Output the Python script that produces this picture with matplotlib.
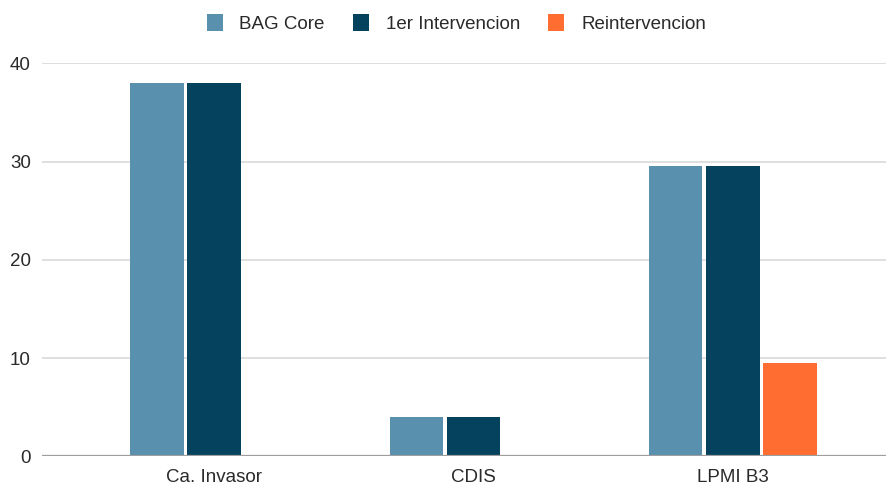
import numpy as np
import matplotlib.pyplot as plt

plt.rcParams['font.family'] = ['Liberation Sans', 'DejaVu Sans']

# Data
categories = ["Ca. Invasor", "CDIS", "LPMI B3"]
bag_core = [38, 4, 29.5]
primera_interv = [38, 4, 29.5]
reinterv = [0, 0, 9.5]
series_names = ["BAG Core", "1er Intervencion", "Reintervencion"]
colors = ["#5890AE", "#04425E", "#FF6D31"]

fig = plt.figure(figsize=(8.86, 4.86), dpi=100)
ax = fig.add_axes([0.0474, 0.0607, 0.9526, 0.8093])

x = np.arange(len(categories))
step = 0.22
width = 0.205
for i, (vals, name, col) in enumerate(zip([bag_core, primera_interv, reinterv], series_names, colors)):
    ax.bar(x + (i - 1) * step, vals, width, color=col, label=name, zorder=3)

ax.set_xlim(-0.663, 2.59)
ax.set_ylim(0, 40)
ax.set_yticks([0, 10, 20, 30, 40])
ax.set_xticks(x)
ax.set_xticklabels(categories)

ax.grid(axis='y', color='#d9d9d9', linewidth=1.2, zorder=0)
ax.axhline(0, color='#9e9e9e', linewidth=1.6, zorder=4)
for s in ax.spines.values():
    s.set_visible(False)
ax.tick_params(axis='both', length=0, labelsize=13.5, colors='#2a2a2a')
ax.tick_params(axis='y', pad=8)
ax.tick_params(axis='x', pad=9)

leg = fig.legend(loc='upper center', bbox_to_anchor=(0.515, 1.005), ncol=3, frameon=False,
                 fontsize=13.5, handlelength=0.85, handleheight=1.0, columnspacing=1.5,
                 handletextpad=0.9)
for t in leg.get_texts():
    t.set_color('#2a2a2a')

fig.savefig("out.png", dpi=100)
